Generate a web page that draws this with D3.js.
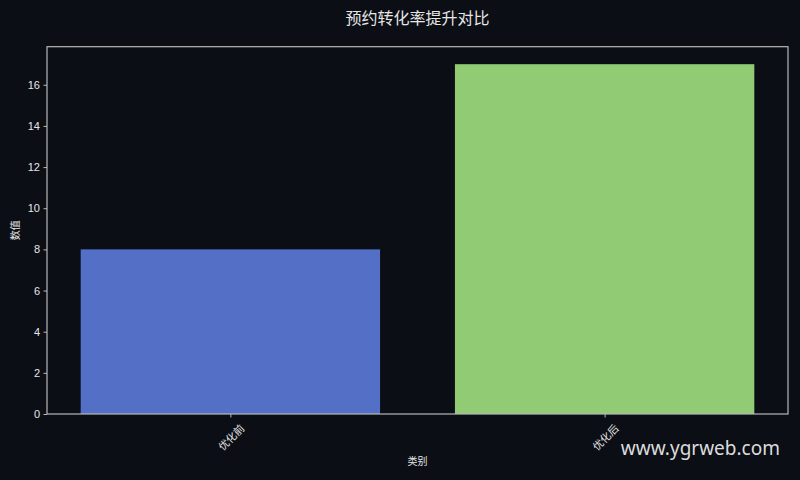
<!DOCTYPE html>
<html><head><meta charset="utf-8">
<script src="https://cdn.jsdelivr.net/npm/d3@7/dist/d3.min.js"></script>
<style>
html,body{margin:0;padding:0;background:#0b0e15;}
svg{display:block;}
</style></head>
<body><svg id="c" width="800" height="480"></svg>
<script>
const categories = ["优化前", "优化后"];
const values = [8, 17];
const barColors = ["#5470c6", "#91cc75"];
const yTicks = [0, 2, 4, 6, 8, 10, 12, 14, 16];
const title = "预约转化率提升对比";
const xLabel = "类别";
const yLabel = "数值";
const watermark = "www.ygrweb.com";

const W = 800, H = 480;
const m = {left: 47, right: 12, top: 46.7, bottom: 66};
const svg = d3.select("#c");
const fontLat = "'Liberation Sans', Arial, 'Noto Sans CJK SC', sans-serif";
const fontCJK = "'Noto Sans CJK SC', 'Liberation Sans', sans-serif";
const textCol = "#e6e6e6";
const spineCol = "#b8b8b8";

svg.append("rect").attr("width", W).attr("height", H).attr("fill", "#0b0e15");

const x0 = m.left, x1 = W - m.right, yb = H - m.bottom, yt = m.top;
const yMax = d3.max(values) * 1.05;
const y = d3.scaleLinear().domain([0, yMax]).range([yb, yt]);
const n = categories.length;
const lo = -0.4, hi = n - 1 + 0.4, pad = (hi - lo) * 0.05;
const xl = d3.scaleLinear().domain([lo - pad, hi + pad]).range([x0, x1]);

svg.selectAll("rect.bar").data(values).join("rect")
  .attr("class", "bar")
  .attr("x", (d, i) => xl(i - 0.4))
  .attr("width", (d, i) => xl(i + 0.4) - xl(i - 0.4))
  .attr("y", d => y(d))
  .attr("height", d => y(0) - y(d))
  .attr("fill", (d, i) => barColors[i]);

svg.append("rect").attr("x", x0).attr("y", yt).attr("width", x1 - x0).attr("height", yb - yt)
  .attr("fill", "none").attr("stroke", spineCol).attr("stroke-width", 1.2);

const yAxis = d3.axisLeft(y).tickValues(yTicks).tickSize(3.5).tickPadding(3.5);
const gy = svg.append("g").attr("transform", `translate(${x0},0)`).call(yAxis);
gy.select(".domain").remove();
gy.selectAll("line").attr("stroke", spineCol);
gy.selectAll("text").attr("fill", textCol).style("font-family", fontLat).style("font-size", "11px");

const xAxis = d3.axisBottom(xl).tickValues(d3.range(n)).tickFormat(i => categories[i]).tickSize(3.5).tickPadding(0);
const gx = svg.append("g").attr("transform", `translate(0,${yb})`).call(xAxis);
gx.select(".domain").remove();
gx.selectAll("line").attr("stroke", spineCol);
gx.selectAll("text").attr("fill", textCol).style("font-family", fontCJK).style("font-size", "10.5px")
  .attr("y", 0).attr("dy", null)
  .attr("text-anchor", "middle")
  .attr("transform", "translate(0,23) rotate(-45)")
  .attr("dominant-baseline", "central");

svg.append("text").attr("x", (x0 + x1) / 2).attr("y", 24).attr("text-anchor", "middle")
  .attr("fill", textCol).style("font-family", fontCJK).style("font-size", "16px").text(title);

svg.append("text").attr("x", (x0 + x1) / 2).attr("y", 465).attr("text-anchor", "middle")
  .attr("fill", textCol).style("font-family", fontCJK).style("font-size", "10px").text(xLabel);
svg.append("text").attr("transform", `translate(19,${(yt + yb) / 2}) rotate(-90)`).attr("text-anchor", "middle")
  .attr("fill", textCol).style("font-family", fontCJK).style("font-size", "10px").text(yLabel);

svg.append("text").attr("x", 780).attr("y", 455).attr("text-anchor", "end")
  .attr("fill", "#dcdcdc").style("font-family", "'Noto Sans', 'DejaVu Sans', sans-serif").style("font-size", "19px").text(watermark);
</script></body></html>
